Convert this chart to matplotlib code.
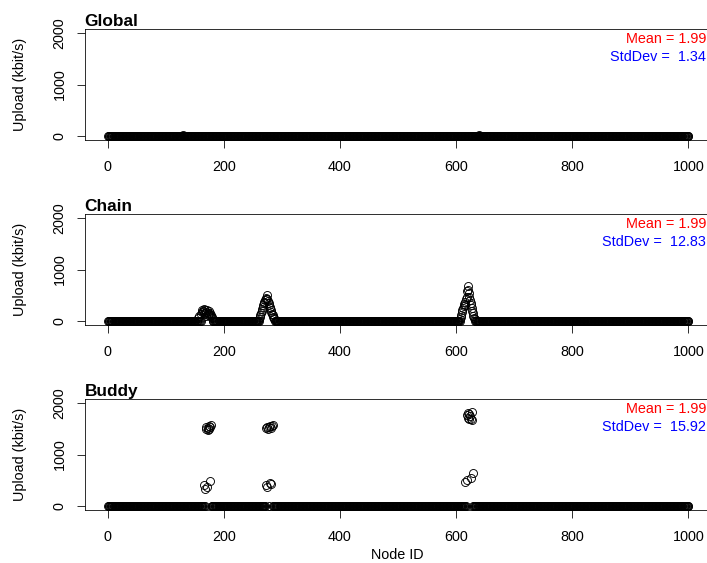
import numpy as np
import matplotlib
matplotlib.use("Agg")
import matplotlib.pyplot as plt

plt.rcParams["font.family"] = ["Liberation Sans", "DejaVu Sans"]

# узлы
node_ids = np.arange(1, 1001)

# Global: почти всё около нуля
global_nodes = [40, 130, 215, 330, 470, 560, 640, 700, 820, 905]
global_values = [6, 8, 5, 7, 4, 6, 9, 5, 7, 6]

# Chain: три "пирамиды"
chain_nodes = [156, 158, 160, 162, 163, 164, 165, 166, 167, 168, 169, 170, 171, 172, 173,
               174, 175, 176, 177, 178, 179, 180,
               260, 262, 263, 264, 265, 266, 267, 268, 269, 270, 271, 272, 273, 274, 275,
               276, 277, 278, 279, 280, 281, 282, 283, 284, 285, 286, 287,
               606, 608, 609, 610, 611, 612, 613, 614, 615, 616, 617, 618, 619, 620, 621,
               622, 623, 624, 625, 626, 627, 628, 629, 630, 631, 632]
chain_values = [50, 90, 130, 180, 220, 190, 230, 160, 210, 130, 100, 170, 220, 150, 110,
                200, 140, 90, 160, 120, 70, 50,
                40, 70, 110, 150, 190, 230, 270, 300, 340, 370, 400, 430, 450, 500, 420,
                380, 340, 310, 280, 250, 210, 170, 140, 110, 80, 50, 30,
                40, 80, 120, 170, 210, 250, 290, 330, 360, 300, 420, 470, 580, 680, 610,
                540, 460, 400, 350, 300, 250, 200, 150, 100, 60, 30]

# Buddy: высокие и низкие кластеры
buddy_nodes = [166, 168, 169, 170, 171, 172, 173, 174, 175, 176, 177, 178,
               272, 273, 274, 275, 276, 277, 279, 280, 281, 282, 283, 284,
               616, 618, 619, 620, 621, 622, 623, 624, 625, 626, 627, 628, 630]
buddy_values = [400, 330, 1500, 1540, 360, 1470, 1520, 1560, 1490, 1530, 490, 1580,
                400, 1510, 1540, 370, 1500, 1530, 1560, 450, 1520, 420, 1550, 1580,
                470, 1760, 510, 1800, 1720, 1780, 1690, 1750, 550, 1700, 1820, 1670, 640]

titles = ["Global", "Chain", "Buddy"]
stddevs = ["StdDev =  1.34", "StdDev =  12.83", "StdDev =  15.92"]
stddev_x = [608, 600, 600]
means = ["Mean = 1.99", "Mean = 1.99", "Mean = 1.99"]
peaks = [(global_nodes, global_values), (chain_nodes, chain_values), (buddy_nodes, buddy_values)]

W, H = 707, 563
fig = plt.figure(figsize=(W / 72, H / 72), dpi=72)

tops = [29, 214, 399]
ax_h = 111
fs = 14.4

for i in range(3):
    ax = fig.add_axes([84.5 / W, 1 - (tops[i] + ax_h) / H, 627 / W, ax_h / H])
    upload = np.zeros(len(node_ids))
    upload[np.array(peaks[i][0]) - 1] = peaks[i][1]
    ax.plot(node_ids, upload, linestyle="none", marker="o", markersize=8,
            markerfacecolor="none", markeredgecolor="black", markeredgewidth=0.9)
    ax.set_xlim(-40, 1040)
    ax.set_ylim(-80, 2080)
    ax.set_xticks([0, 200, 400, 600, 800, 1000])
    ax.set_yticks([0, 1000, 2000])
    ax.set_yticklabels(["0", "1000", "2000"], rotation=90, va="center")
    ax.tick_params(axis="both", labelsize=fs, length=8, width=0.8, direction="out")
    ax.tick_params(axis="x", pad=12)
    ax.tick_params(axis="y", pad=10)
    for s in ax.spines.values():
        s.set_linewidth(0.8)
    ax.text(0, 1.0, titles[i], transform=ax.transAxes, ha="left", va="bottom",
            fontsize=17.3, fontweight="bold")
    fig.text(20 / W, 1 - (tops[i] + ax_h / 2) / H, "Upload (kbit/s)", rotation=90,
             ha="center", va="center", fontsize=fs)
    fig.text(626 / W, 1 - (tops[i] + 10) / H, means[i], color="red",
             ha="left", va="center", fontsize=fs)
    fig.text((stddev_x[i] + 2) / W, 1 - (tops[i] + 28) / H, stddevs[i], color="blue",
             ha="left", va="center", fontsize=fs)

fig.text(397 / W, 1 - 555 / H, "Node ID", ha="center", va="center", fontsize=fs)

fig.savefig("out.png", dpi=72)
